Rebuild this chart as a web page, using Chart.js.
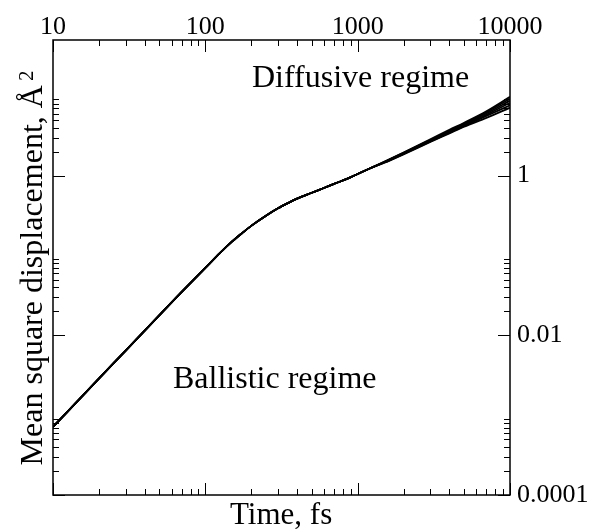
<!DOCTYPE html>
<html>
<head>
<meta charset="utf-8">
<script src="https://cdn.jsdelivr.net/npm/chart.js@4/dist/chart.umd.min.js"></script>
<style>
  html, body { margin: 0; padding: 0; background: #fff; }
</style>
</head>
<body>
<canvas id="msd" width="592" height="529"></canvas>
<script>
// time in fs
const times = [10, 20, 30, 50, 70, 100, 125, 150, 175, 200, 250, 300, 350, 400, 500, 600, 700, 850, 1000, 1200, 1500, 2000, 3000, 4000, 5000, 7000, 10000];

// mean square displacement, A^2 (six runs, they overlap until ~1500 fs)
const run1 = [0.000715, 0.00286, 0.00644, 0.0179, 0.035, 0.070, 0.108, 0.150, 0.192, 0.235, 0.315, 0.39, 0.455, 0.515, 0.61, 0.70, 0.788, 0.91, 1.05, 1.23, 1.50, 1.95, 2.85, 3.75, 4.6, 6.4, 9.7];
const run2 = [0.000715, 0.00286, 0.00644, 0.0179, 0.035, 0.070, 0.108, 0.150, 0.192, 0.235, 0.315, 0.39, 0.455, 0.515, 0.61, 0.70, 0.788, 0.91, 1.05, 1.23, 1.49, 1.93, 2.80, 3.65, 4.5, 6.2, 9.2];
const run3 = [0.000715, 0.00286, 0.00644, 0.0179, 0.035, 0.070, 0.108, 0.150, 0.192, 0.235, 0.315, 0.39, 0.455, 0.515, 0.61, 0.70, 0.788, 0.91, 1.05, 1.23, 1.48, 1.91, 2.76, 3.58, 4.4, 6.0, 8.7];
const run4 = [0.000715, 0.00286, 0.00644, 0.0179, 0.035, 0.070, 0.108, 0.150, 0.192, 0.235, 0.315, 0.39, 0.455, 0.515, 0.61, 0.70, 0.788, 0.91, 1.05, 1.23, 1.47, 1.89, 2.72, 3.50, 4.3, 5.8, 8.2];
const run5 = [0.000715, 0.00286, 0.00644, 0.0179, 0.035, 0.070, 0.108, 0.150, 0.192, 0.235, 0.315, 0.39, 0.455, 0.515, 0.61, 0.70, 0.788, 0.91, 1.05, 1.23, 1.46, 1.87, 2.68, 3.44, 4.2, 5.6, 7.6];
const run6 = [0.000715, 0.00286, 0.00644, 0.0179, 0.035, 0.070, 0.108, 0.150, 0.192, 0.235, 0.315, 0.39, 0.455, 0.515, 0.61, 0.70, 0.788, 0.91, 1.05, 1.23, 1.45, 1.85, 2.64, 3.38, 4.1, 5.3, 7.1];
const runs = [run1, run2, run3, run4, run5, run6];

// tick values
const xMajor = [10, 100, 1000, 10000];
const xMinor = [20, 30, 40, 50, 60, 70, 80, 90, 200, 300, 400, 500, 600, 700, 800, 900, 2000, 3000, 4000, 5000, 6000, 7000, 8000, 9000];
const yMajor = [0.0001, 0.01, 1];
const yMinor = [0.0002, 0.0003, 0.0004, 0.0005, 0.0006, 0.0007, 0.0008, 0.0009,
                0.02, 0.03, 0.04, 0.05, 0.06, 0.07, 0.08, 0.09,
                2, 3, 4, 5, 6, 7, 8, 9];

const serif = "'Liberation Serif', 'Times New Roman', serif";

function pairs(ys) {
	return times.map(function(t, i) { return { x: t, y: ys[i] }; });
}

// frame, inward tick marks and the free texts
const decorations = {
	id: 'decorations',
	afterDraw: function(chart) {
		const ctx = chart.ctx;
		const a = chart.chartArea;
		const xs = chart.scales.x;
		const ys = chart.scales.y;
		ctx.save();

		ctx.strokeStyle = '#000';
		ctx.lineWidth = 1;
		ctx.beginPath();
		xMajor.concat(xMinor).forEach(function(v) {
			const len = xMajor.includes(v) ? 12 : 6;
			const px = Math.round(xs.getPixelForValue(v)) + 0.5;
			ctx.moveTo(px, a.top); ctx.lineTo(px, a.top + len);
			ctx.moveTo(px, a.bottom); ctx.lineTo(px, a.bottom - len);
		});
		yMajor.concat(yMinor).forEach(function(v) {
			const len = yMajor.includes(v) ? 12 : 6;
			const py = Math.round(ys.getPixelForValue(v)) + 0.5;
			ctx.moveTo(a.left, py); ctx.lineTo(a.left + len, py);
			ctx.moveTo(a.right, py); ctx.lineTo(a.right - len, py);
		});
		ctx.stroke();

		ctx.lineWidth = 1.5;
		ctx.strokeRect(a.left, a.top, a.right - a.left, a.bottom - a.top);

		ctx.fillStyle = '#000';
		ctx.font = '32px ' + serif;
		ctx.textAlign = 'left';
		ctx.textBaseline = 'alphabetic';
		ctx.fillText('Diffusive regime', 252, 87);
		ctx.fillText('Ballistic regime', 173, 388);

		ctx.font = '31px ' + serif;
		ctx.fillText('Time, fs', 230, 524);

		// y title with a raised "2"
		const main = 'Mean square displacement, Å';
		ctx.font = '32px ' + serif;
		const w1 = ctx.measureText(main).width;
		ctx.font = '21px ' + serif;
		const w2 = ctx.measureText('2').width;
		const total = w1 + 4 + w2;
		ctx.translate(42, 268);
		ctx.rotate(-Math.PI / 2);
		ctx.font = '32px ' + serif;
		ctx.fillText(main, -total / 2, 0);
		ctx.font = '21px ' + serif;
		ctx.fillText('2', -total / 2 + w1 + 4, -9);
		ctx.restore();
	}
};

new Chart(document.getElementById('msd'), {
	type: 'line',
	data: {
		datasets: runs.map(function(r) {
			return {
				data: pairs(r),
				borderColor: '#000',
				borderWidth: 1.8,
				pointRadius: 0,
				fill: false,
				cubicInterpolationMode: 'monotone'
			};
		})
	},
	options: {
		responsive: false,
		animation: false,
		devicePixelRatio: 1,
		layout: { padding: { left: 53, right: 0, top: 0, bottom: 34 } },
		plugins: { legend: { display: false }, tooltip: { enabled: false } },
		scales: {
			x: {
				type: 'logarithmic',
				position: 'top',
				min: 10,
				max: 10000,
				grid: { display: false, drawTicks: false },
				border: { display: false },
				afterBuildTicks: function(s) { s.ticks = xMajor.map(function(v) { return { value: v }; }); },
				afterFit: function(s) { s.height = 40; },
				ticks: {
					autoSkip: false,
					maxRotation: 0,
					padding: 0,
					color: '#000',
					font: { family: serif, size: 26, lineHeight: 1 },
					callback: function(v) { return String(v); }
				}
			},
			y: {
				type: 'logarithmic',
				position: 'right',
				min: 0.0001,
				max: 50,
				grid: { display: false, drawTicks: false },
				border: { display: false },
				afterBuildTicks: function(s) { s.ticks = yMajor.map(function(v) { return { value: v }; }); },
				afterFit: function(s) { s.width = 82; },
				ticks: {
					autoSkip: false,
					padding: 7,
					crossAlign: 'near',
					color: '#000',
					font: { family: serif, size: 26 },
					callback: function(v) { return v >= 1 ? String(v) : v.toFixed(Math.round(-Math.log10(v))); }
				}
			}
		}
	},
	plugins: [decorations]
});
</script>
</body>
</html>
